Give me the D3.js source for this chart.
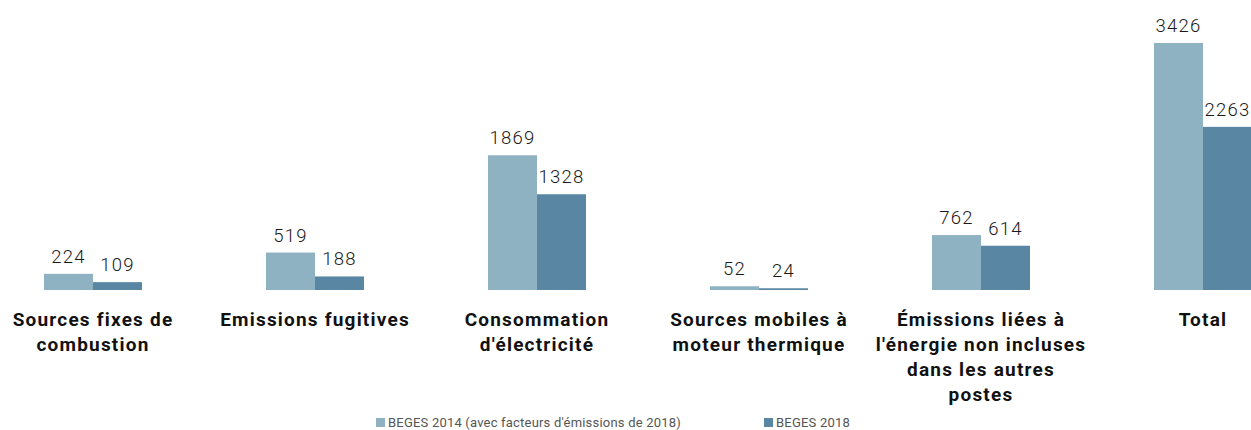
<!DOCTYPE html>
<html>
<head>
<meta charset="utf-8">
<script src="https://cdn.jsdelivr.net/npm/d3@7"></script>
<style>
  body { margin: 0; background: #fff; }
  svg { display: block; font-family: Roboto, "DejaVu Sans", sans-serif; }
</style>
</head>
<body>
<svg id="chart" width="1251" height="430"></svg>
<script>
const categories = [
  "Sources fixes de combustion",
  "Emissions fugitives",
  "Consommation d'électricité",
  "Sources mobiles à moteur thermique",
  "Émissions liées à l'énergie non incluses dans les autres postes",
  "Total"
];
const categoryLines = [
  ["Sources fixes de", "combustion"],
  ["Emissions fugitives"],
  ["Consommation", "d'électricité"],
  ["Sources mobiles à", "moteur thermique"],
  ["Émissions liées à", "l'énergie non incluses", "dans les autres", "postes"],
  ["Total"]
];
const beges2014 = [224, 519, 1869, 52, 762, 3426];
const beges2018 = [109, 188, 1328, 24, 614, 2263];
const seriesNames = ["BEGES 2014 (avec facteurs d'émissions de 2018)", "BEGES 2018"];
const colors = ["#8fb2c3", "#5987a3"];

const svg = d3.select("#chart");
const baseline = 290;

const x = d3.scaleBand()
  .domain(categories)
  .range([-18, 1314])
  .paddingInner(0.5586)
  .paddingOuter(0.2793);

const xSub = d3.scaleBand()
  .domain([0, 1])
  .range([0, x.bandwidth()]);

const y = d3.scaleLinear()
  .domain([0, 3426])
  .range([baseline, 43]);

const groups = svg.selectAll("g.cat")
  .data(categories)
  .enter()
  .append("g")
  .attr("class", "cat")
  .attr("transform", d => `translate(${x(d)},0)`);

groups.each(function(cat, i) {
  const g = d3.select(this);
  const vals = [beges2014[i], beges2018[i]];
  vals.forEach((v, s) => {
    g.append("rect")
      .attr("x", xSub(s))
      .attr("y", y(v))
      .attr("width", xSub.bandwidth())
      .attr("height", baseline - y(v))
      .attr("fill", colors[s]);
    g.append("text")
      .attr("x", xSub(s) + xSub.bandwidth() / 2)
      .attr("y", y(v) - 11)
      .attr("text-anchor", "middle")
      .attr("font-size", 18.5)
      .attr("font-weight", 300)
      .attr("letter-spacing", 1.2)
      .attr("fill", "#1a1a1a")
      .text(v);
  });
  const label = g.append("text")
    .attr("text-anchor", "middle")
    .attr("font-size", 19)
    .attr("font-weight", "bold")
    .attr("letter-spacing", 1.2)
    .attr("fill", "#111");
  categoryLines[i].forEach((line, k) => {
    label.append("tspan")
      .attr("x", x.bandwidth() / 2)
      .attr("y", 326 + k * 25)
      .text(line);
  });
});

// legend
const legendX = [376, 764];
seriesNames.forEach((name, s) => {
  svg.append("rect")
    .attr("x", legendX[s])
    .attr("y", 418)
    .attr("width", 9)
    .attr("height", 9)
    .attr("fill", colors[s]);
  svg.append("text")
    .attr("x", legendX[s] + 12)
    .attr("y", 427)
    .attr("font-size", 13)
    .attr("letter-spacing", 0.2)
    .attr("fill", "#555")
    .text(name);
});
</script>
</body>
</html>
